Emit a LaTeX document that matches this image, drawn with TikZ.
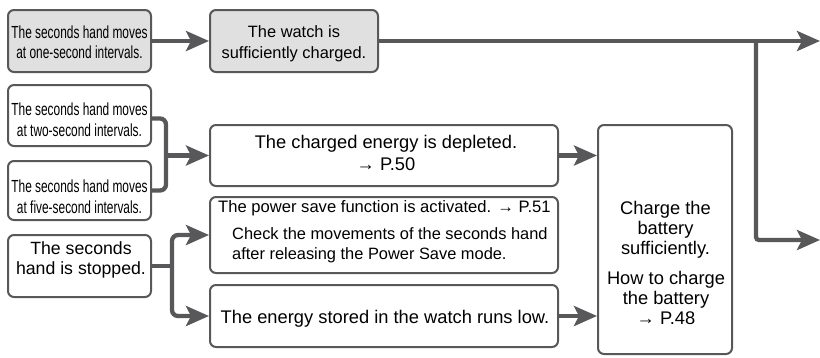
\documentclass[tikz,border=0pt]{standalone}
\usepackage{fontspec}
\setmainfont{Liberation Sans}
\newfontfamily\condfont[FakeStretch=0.68]{Liberation Sans}
\usetikzlibrary{arrows.meta}
\definecolor{ink}{RGB}{88,88,90}
\definecolor{boxfill}{RGB}{224,224,224}
\begin{document}
\begin{tikzpicture}[x=1pt,y=-1pt,
  box/.style={draw=ink, line width=2pt, rounded corners=6pt, rectangle, inner sep=0pt},
  greybox/.style={box, fill=boxfill},
  conn/.style={draw=ink, line width=4.3pt},
  arr/.style={-{Stealth[length=23pt,width=20pt,inset=5pt]}},
  txt/.style={inner sep=0pt, align=center, text=black, font=\fontsize{16.4}{20.5}\selectfont},
  bigtxt/.style={txt, font=\fontsize{18.3}{19.6}\selectfont},
  midtxt/.style={txt, font=\fontsize{17.7}{20}\selectfont},
  ctxt/.style={inner sep=0pt, align=center, text=black, font=\condfont\fontsize{17.5}{20.5}\selectfont},
]
\useasboundingbox (0,0) rectangle (820,357);

% boxes
\node[greybox, minimum width=143pt, minimum height=62pt] (b1) at (79.5,41) {};
\node[greybox, minimum width=168pt, minimum height=62pt] (b2) at (294,41) {};
\node[box, minimum width=143pt, minimum height=61pt] (b3) at (79.5,115.5) {};
\node[box, minimum width=143pt, minimum height=59pt] (b4) at (79.5,190.5) {};
\node[box, minimum width=143pt, minimum height=62pt] (b5) at (79.5,266) {};
\node[box, minimum width=348pt, minimum height=61pt] (c1) at (384,155.5) {};
\node[box, minimum width=348pt, minimum height=76pt] (c2) at (384,235) {};
\node[box, minimum width=348pt, minimum height=62pt] (c3) at (384,316) {};
\node[box, minimum width=134pt, minimum height=229pt] (d) at (665,239.5) {};

% texts
\node[ctxt, anchor=north] (t1) at (79.5,25.5) {The seconds hand moves\\at one-second intervals.};
\node[txt, anchor=north] (t2) at (294,25.5) {The watch is\\sufficiently charged.};
\node[ctxt, anchor=north] (t3) at (79.5,103) {The seconds hand moves\\at two-second intervals.};
\node[ctxt, anchor=north] (t4) at (79.5,180) {The seconds hand moves\\at five-second intervals.};
\node[midtxt, anchor=north] (t5) at (81,241.5) {The seconds\\hand is stopped.};
\node[bigtxt, anchor=north] (t6) at (386,135) {The charged energy is depleted.\\[2.4pt]→ P.50};
\node[txt, anchor=north west, font=\fontsize{16.6}{20.5}\selectfont] (t7) at (218,200.5) {The power save function is activated. → P.51};
\node[txt, anchor=north west, align=left] (t8) at (232,227) {Check the movements of the seconds hand\\after releasing the Power Save mode.};
\node[bigtxt, anchor=base] (t9) at (385,323) {The energy stored in the watch runs low.};
\node[bigtxt, anchor=north] (t10) at (665.5,201.5) {Charge the\\battery\\sufficiently.};
\node[bigtxt, anchor=north] (t11) at (666,271.5) {How to charge\\the battery\\→ P.48};

% connectors
\coordinate (out1) at (820,41);
\coordinate (split) at (756,41);
\coordinate (out2) at (820,240);
\coordinate (brk) at (166,0);
\coordinate (fork) at (172,266);

\draw[conn, arr] (b1.east) -- (b2.west);
\draw[conn, arr] (b2.east) -- (out1);
\draw[conn, arr, rounded corners=3pt] (split) |- (out2);

\draw[conn, rounded corners=6pt] ([yshift=-3pt]b3.east) -| (brk |- b4.east) -- (b4.east);
\draw[conn, arr] (brk |- c1.west) -- (c1.west);

\draw[conn] (b5.east) -- (fork);
\draw[conn, arr, rounded corners=6pt] (fork) |- (c2.west);
\draw[conn, arr, rounded corners=6pt] (fork) |- (c3.west);

\draw[conn, arr] (c1.east) -- (c1.east -| d.west);
\draw[conn, arr] (c3.east) -- (c3.east -| d.west);
\end{tikzpicture}
\end{document}
